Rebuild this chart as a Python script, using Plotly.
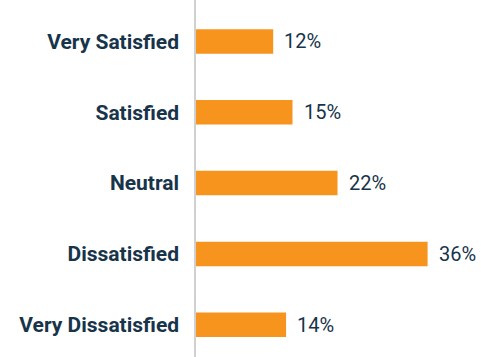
import plotly.graph_objects as go

# Survey responses
categories = ["Very Satisfied", "Satisfied", "Neutral", "Dissatisfied", "Very Dissatisfied"]
shares = [12, 15, 22, 36, 14]
value_labels = ["12%", "15%", "22%", "36%", "14%"]

BAR_COLOR = "#F7941D"
TEXT_COLOR = "#17344A"

fig = go.Figure(
    go.Bar(
        x=shares,
        y=categories,
        orientation="h",
        marker=dict(color=BAR_COLOR, line=dict(width=0)),
        width=0.346,
        hoverinfo="skip",
    )
)

# Value labels to the right of each bar
for cat, val, lab in zip(categories, shares, value_labels):
    fig.add_annotation(
        x=val, y=cat, text=lab, showarrow=False,
        xanchor="left", yanchor="middle", xshift=9,
        font=dict(family="Roboto", size=20, color=TEXT_COLOR),
    )

fig.update_layout(
    width=481, height=357,
    margin=dict(l=196, r=0, t=0, b=0),
    paper_bgcolor="white", plot_bgcolor="white",
    showlegend=False,
    xaxis=dict(range=[0, 44.3], visible=False, fixedrange=True),
    yaxis=dict(
        type="category",
        range=[4.456, -0.586],
        showline=True, linecolor="#D0D0D0", linewidth=1.5,
        showgrid=False, zeroline=False, ticks="",
        ticklabelstandoff=11,
        tickfont=dict(family="Roboto", size=21, color=TEXT_COLOR, weight="bold"),
        fixedrange=True,
    ),
)

fig.write_html("out.html", config={"displayModeBar": False})
